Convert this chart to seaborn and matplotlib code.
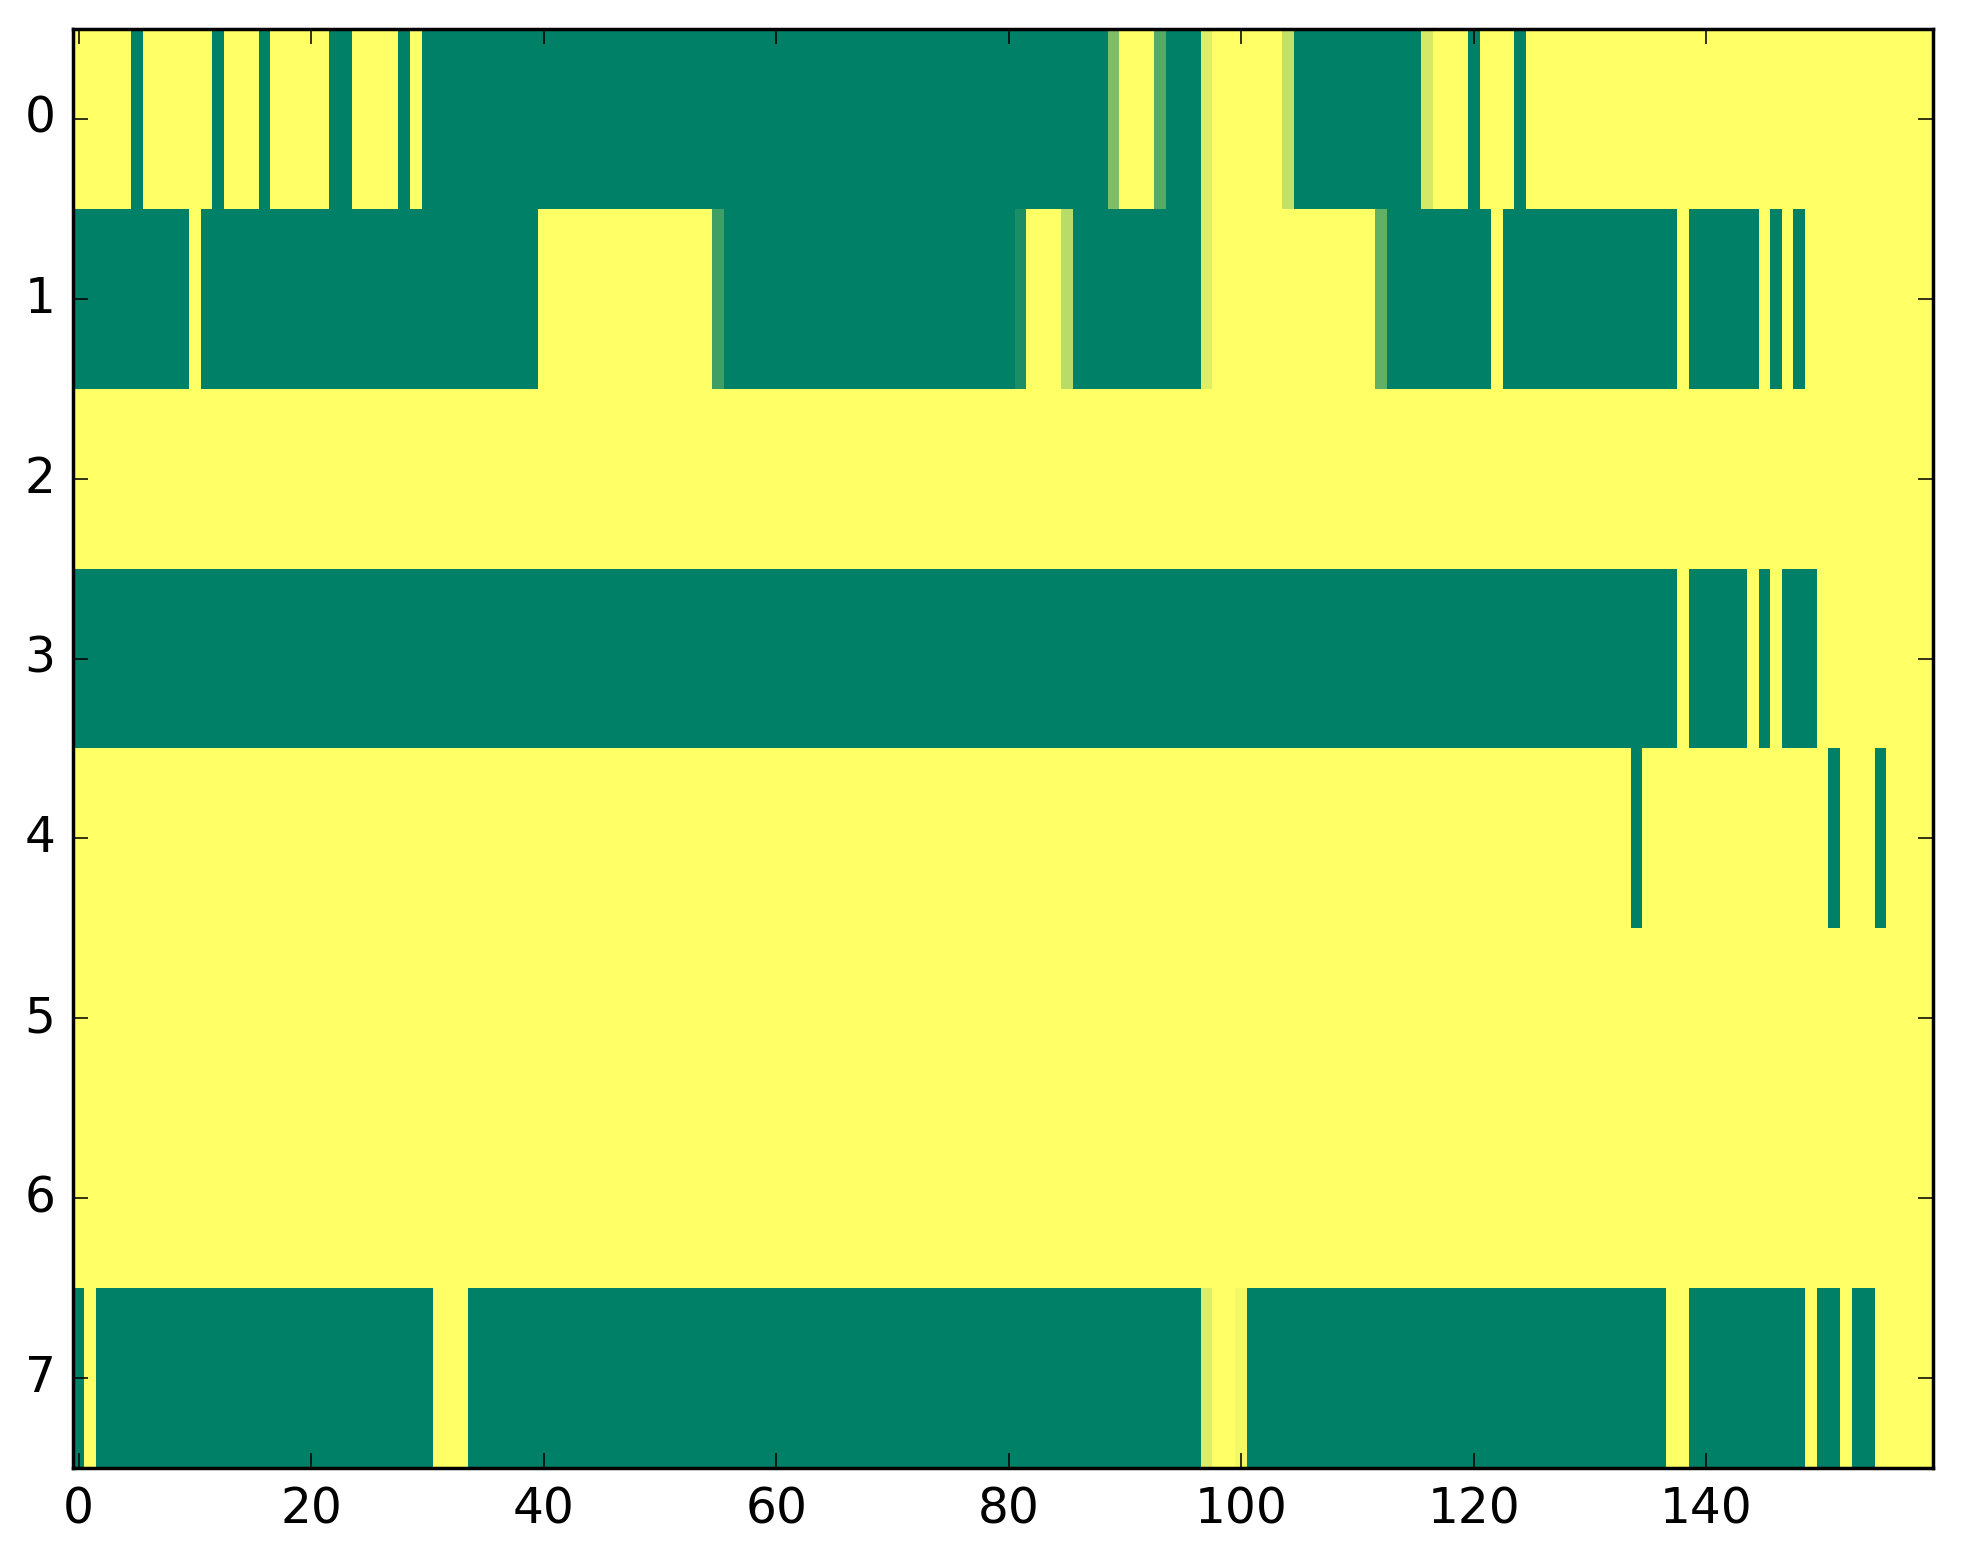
import numpy as np
import seaborn as sns
import matplotlib
matplotlib.use("Agg")
import matplotlib.pyplot as plt

# each row is a list of (value, run length), 160 columns per row
row_0 = [(1, 5), (0, 1), (1, 6), (0, 1), (1, 3), (0, 1), (1, 5), (0, 2), (1, 4),
         (0, 1), (1, 1), (0, 59), (0.49, 1), (1, 3), (0.33, 1), (0, 3), (0.87, 1),
         (1, 6), (0.76, 1), (0, 11), (0.83, 1), (1, 3), (0, 1), (1, 3), (0, 1), (1, 35)]
row_1 = [(0, 10), (1, 1), (0, 29), (1, 15), (0.24, 1), (0, 25), (0.11, 1), (1, 3),
         (0.72, 1), (0, 11), (0.87, 1), (1, 14), (0.38, 1), (0, 9), (1, 1), (0, 15),
         (1, 1), (0, 6), (1, 1), (0, 1), (1, 1), (0, 1), (1, 11)]
row_2 = [(1, 160)]
row_3 = [(0, 138), (1, 1), (0, 5), (1, 1), (0, 1), (1, 1), (0, 3), (1, 10)]
row_4 = [(1, 134), (0, 1), (1, 16), (0, 1), (1, 3), (0, 1), (1, 4)]
row_5 = [(1, 160)]
row_6 = [(1, 160)]
row_7 = [(0, 1), (1, 1), (0, 29), (1, 3), (0, 63), (0.86, 1), (1, 2), (0.95, 1),
         (0, 36), (1, 2), (0, 10), (1, 1), (0, 2), (1, 1), (0, 2), (1, 5)]

rows = [row_0, row_1, row_2, row_3, row_4, row_5, row_6, row_7]
x_ticks = [0, 20, 40, 60, 80, 100, 120, 140]
y_ticks = [0, 1, 2, 3, 4, 5, 6, 7]


def expand(runs):
    out = []
    for v, n in runs:
        out += [v] * n
    return out


data = np.array([expand(r) for r in rows], dtype=float)

plt.rcParams["font.family"] = ["DejaVu Sans"]

fig = plt.figure(figsize=(1963 / 250, 1564 / 250), dpi=250)
ax = fig.add_axes([0.0371, 0.0614, 0.9476, 0.9201])

sns.heatmap(data, cmap="summer", vmin=0, vmax=1, cbar=False, ax=ax)

ax.set_xticks(np.array(x_ticks) + 0.5)
ax.set_xticklabels([str(t) for t in x_ticks], rotation=0)
ax.set_yticks(np.array(y_ticks) + 0.5)
ax.set_yticklabels([str(t) for t in y_ticks], rotation=0)

for s in ax.spines.values():
    s.set_visible(True)
    s.set_linewidth(1.0)
    s.set_color("black")

ax.tick_params(direction="in", length=4.2, width=0.45, top=True, right=True,
               labelsize=14, pad=5, colors="black")

fig.savefig("out.png", dpi=250)
